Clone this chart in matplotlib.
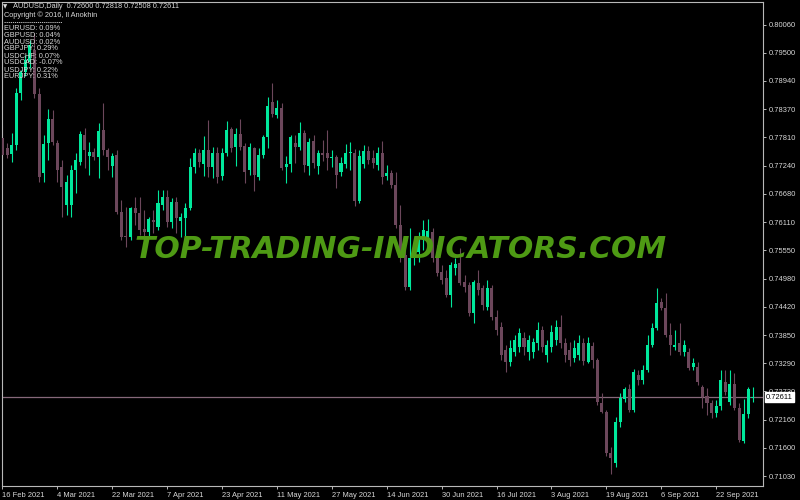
import numpy as np
import matplotlib
matplotlib.use("Agg")
import matplotlib.pyplot as plt
from matplotlib.lines import Line2D
import matplotlib.transforms as mtransforms

# AUDUSD daily bars
opens = [
    0.7780, 0.7760, 0.7748, 0.7766, 0.7870, 0.7912, 0.7932, 0.7956, 0.7868, 0.7710,
    0.7770, 0.7818, 0.7770, 0.7722, 0.7646, 0.7646, 0.7716, 0.7732, 0.7786, 0.7744,
    0.7752, 0.7742, 0.7796, 0.7756, 0.7724, 0.7746, 0.7632, 0.7584, 0.7582, 0.7640,
    0.7630, 0.7598, 0.7592, 0.7616, 0.7602, 0.7646, 0.7662, 0.7612, 0.7652, 0.7614,
    0.7620, 0.7640, 0.7722, 0.7750, 0.7728, 0.7756, 0.7722, 0.7750, 0.7704, 0.7750,
    0.7798, 0.7762, 0.7788, 0.7764, 0.7716, 0.7760, 0.7702, 0.7746, 0.7782, 0.7852,
    0.7826, 0.7840, 0.7722, 0.7728, 0.7770, 0.7762, 0.7790, 0.7724, 0.7774, 0.7724,
    0.7750, 0.7750, 0.7740, 0.7742, 0.7712, 0.7728, 0.7750, 0.7750, 0.7654, 0.7728,
    0.7754, 0.7740, 0.7726, 0.7750, 0.7704, 0.7710, 0.7686, 0.7606, 0.7546, 0.7482,
    0.7540, 0.7552, 0.7576, 0.7580, 0.7592, 0.7542, 0.7512, 0.7500, 0.7466, 0.7520,
    0.7530, 0.7492, 0.7486, 0.7430, 0.7490, 0.7480, 0.7442, 0.7480, 0.7422, 0.7402,
    0.7356, 0.7332, 0.7352, 0.7362, 0.7380, 0.7352, 0.7352, 0.7370, 0.7396, 0.7346,
    0.7362, 0.7376, 0.7402, 0.7370, 0.7356, 0.7340, 0.7346, 0.7370, 0.7332, 0.7364,
    0.7336, 0.7250, 0.7232, 0.7150, 0.7130, 0.7212, 0.7258, 0.7278, 0.7236, 0.7306,
    0.7296, 0.7316, 0.7366, 0.7400, 0.7452, 0.7440, 0.7386, 0.7362, 0.7370, 0.7352,
    0.7352, 0.7322, 0.7322, 0.7282, 0.7264, 0.7250, 0.7230, 0.7244, 0.7292, 0.7252,
    0.7288, 0.7240, 0.7174, 0.7228, 0.72600,
]
highs = [
    0.7806, 0.7770, 0.7790, 0.7880, 0.7916, 0.7946, 0.7976, 0.7990, 0.7880, 0.7786,
    0.7838, 0.7836, 0.7776, 0.7736, 0.7706, 0.7726, 0.7750, 0.7794, 0.7800, 0.7772,
    0.7760, 0.7810, 0.7850, 0.7760, 0.7750, 0.7756, 0.7656, 0.7642, 0.7642, 0.7662,
    0.7662, 0.7636, 0.7622, 0.7636, 0.7676, 0.7676, 0.7676, 0.7660, 0.7662, 0.7630,
    0.7650, 0.7740, 0.7760, 0.7758, 0.7784, 0.7816, 0.7762, 0.7762, 0.7760, 0.7814,
    0.7802, 0.7800, 0.7818, 0.7770, 0.7770, 0.7762, 0.7760, 0.7786, 0.7862, 0.7890,
    0.7856, 0.7850, 0.7744, 0.7786, 0.7786, 0.7812, 0.7796, 0.7780, 0.7786, 0.7756,
    0.7776, 0.7796, 0.7756, 0.7746, 0.7742, 0.7768, 0.7772, 0.7758, 0.7756, 0.7766,
    0.7764, 0.7756, 0.7762, 0.7774, 0.7726, 0.7716, 0.7712, 0.7646, 0.7556, 0.7600,
    0.7576, 0.7592, 0.7616, 0.7618, 0.7600, 0.7566, 0.7526, 0.7516, 0.7532, 0.7540,
    0.7560, 0.7506, 0.7492, 0.7496, 0.7516, 0.7486, 0.7496, 0.7486, 0.7436, 0.7412,
    0.7366, 0.7376, 0.7386, 0.7400, 0.7392, 0.7386, 0.7380, 0.7412, 0.7404, 0.7376,
    0.7406, 0.7416, 0.7426, 0.7380, 0.7372, 0.7376, 0.7386, 0.7380, 0.7382, 0.7372,
    0.7340, 0.7270, 0.7236, 0.7162, 0.7222, 0.7270, 0.7282, 0.7288, 0.7318, 0.7316,
    0.7326, 0.7386, 0.7410, 0.7480, 0.7460, 0.7470, 0.7410, 0.7396, 0.7410, 0.7376,
    0.7360, 0.7340, 0.7332, 0.7286, 0.7280, 0.7256, 0.7256, 0.7316, 0.7316, 0.7316,
    0.7310, 0.7250, 0.7258, 0.7282, 0.72818,
]
lows = [
    0.7740, 0.7740, 0.7732, 0.7756, 0.7856, 0.7904, 0.7920, 0.7860, 0.7692, 0.7692,
    0.7736, 0.7766, 0.7692, 0.7622, 0.7626, 0.7622, 0.7670, 0.7726, 0.7720, 0.7706,
    0.7736, 0.7700, 0.7746, 0.7716, 0.7702, 0.7628, 0.7576, 0.7562, 0.7576, 0.7606,
    0.7586, 0.7584, 0.7582, 0.7590, 0.7596, 0.7636, 0.7602, 0.7600, 0.7590, 0.7582,
    0.7582, 0.7636, 0.7710, 0.7722, 0.7704, 0.7702, 0.7700, 0.7690, 0.7696, 0.7744,
    0.7752, 0.7724, 0.7756, 0.7690, 0.7706, 0.7674, 0.7696, 0.7740, 0.7760, 0.7822,
    0.7820, 0.7716, 0.7690, 0.7712, 0.7730, 0.7756, 0.7712, 0.7706, 0.7720, 0.7708,
    0.7734, 0.7716, 0.7722, 0.7680, 0.7704, 0.7720, 0.7716, 0.7644, 0.7650, 0.7720,
    0.7728, 0.7720, 0.7716, 0.7688, 0.7696, 0.7680, 0.7600, 0.7532, 0.7476, 0.7476,
    0.7526, 0.7532, 0.7556, 0.7572, 0.7532, 0.7504, 0.7488, 0.7462, 0.7442, 0.7506,
    0.7486, 0.7472, 0.7424, 0.7410, 0.7466, 0.7436, 0.7436, 0.7416, 0.7386, 0.7336,
    0.7312, 0.7324, 0.7344, 0.7352, 0.7346, 0.7336, 0.7340, 0.7356, 0.7352, 0.7332,
    0.7352, 0.7366, 0.7360, 0.7332, 0.7324, 0.7332, 0.7336, 0.7326, 0.7330, 0.7320,
    0.7246, 0.7230, 0.7144, 0.7108, 0.7122, 0.7202, 0.7252, 0.7232, 0.7232, 0.7286,
    0.7288, 0.7312, 0.7362, 0.7396, 0.7436, 0.7382, 0.7346, 0.7356, 0.7346, 0.7344,
    0.7316, 0.7316, 0.7286, 0.7240, 0.7226, 0.7220, 0.7222, 0.7236, 0.7266, 0.7246,
    0.7236, 0.7172, 0.7170, 0.7220, 0.72508,
]
closes = [
    0.7746, 0.7746, 0.7766, 0.7870, 0.7912, 0.7936, 0.7966, 0.7868, 0.7702, 0.7768,
    0.7818, 0.7772, 0.7716, 0.7682, 0.7692, 0.7716, 0.7736, 0.7788, 0.7756, 0.7752,
    0.7742, 0.7794, 0.7756, 0.7742, 0.7744, 0.7632, 0.7582, 0.7582, 0.7640, 0.7630,
    0.7596, 0.7592, 0.7618, 0.7612, 0.7650, 0.7662, 0.7612, 0.7652, 0.7620, 0.7622,
    0.7640, 0.7722, 0.7750, 0.7732, 0.7756, 0.7722, 0.7750, 0.7702, 0.7750, 0.7796,
    0.7760, 0.7788, 0.7762, 0.7712, 0.7762, 0.7706, 0.7746, 0.7782, 0.7844, 0.7828,
    0.7840, 0.7720, 0.7728, 0.7782, 0.7762, 0.7790, 0.7726, 0.7772, 0.7730, 0.7750,
    0.7746, 0.7740, 0.7742, 0.7706, 0.7730, 0.7750, 0.7752, 0.7654, 0.7744, 0.7754,
    0.7736, 0.7730, 0.7750, 0.7702, 0.7710, 0.7686, 0.7606, 0.7546, 0.7482, 0.7540,
    0.7556, 0.7580, 0.7596, 0.7594, 0.7540, 0.7510, 0.7496, 0.7466, 0.7526, 0.7528,
    0.7490, 0.7482, 0.7430, 0.7492, 0.7476, 0.7446, 0.7480, 0.7422, 0.7396, 0.7346,
    0.7332, 0.7360, 0.7376, 0.7390, 0.7362, 0.7376, 0.7372, 0.7396, 0.7362, 0.7366,
    0.7392, 0.7402, 0.7370, 0.7346, 0.7336, 0.7360, 0.7370, 0.7334, 0.7370, 0.7336,
    0.7252, 0.7232, 0.7150, 0.7140, 0.7212, 0.7260, 0.7278, 0.7236, 0.7312, 0.7296,
    0.7316, 0.7366, 0.7400, 0.7450, 0.7440, 0.7386, 0.7366, 0.7366, 0.7352, 0.7366,
    0.7320, 0.7330, 0.7292, 0.7262, 0.7250, 0.7230, 0.7244, 0.7296, 0.7272, 0.7288,
    0.7240, 0.7176, 0.7228, 0.7278, 0.72611,
]

date_labels = ["16 Feb 2021", "4 Mar 2021", "22 Mar 2021", "7 Apr 2021", "23 Apr 2021",
               "11 May 2021", "27 May 2021", "14 Jun 2021", "30 Jun 2021", "16 Jul 2021",
               "3 Aug 2021", "19 Aug 2021", "6 Sep 2021", "22 Sep 2021"]
bars_per_label = 12
price_ticks = [0.80060, 0.79500, 0.78940, 0.78370, 0.77810, 0.77240, 0.76680, 0.76110,
               0.75550, 0.74980, 0.74420, 0.73850, 0.73290, 0.72730, 0.72160, 0.71600,
               0.71030]
bid = 0.72611

header = "AUDUSD,Daily  0.72600 0.72818 0.72508 0.72611"
copyright_text = "Copyright \u00a9 2016, Il Anokhin"
pairs = ["EURUSD", "GBPUSD", "AUDUSD", "GBPJPY", "USDCHF", "USDCAD", "USDJPY", "EURJPY"]
changes = ["0.09%", "0.04%", "0.02%", "0.29%", "0.07%", "-0.07%", "0.22%", "0.31%"]

BG = "black"
BULL = "#00E89C"
BEAR = "#6C475B"
FG = "#D8D8D8"
AXIS = "#B8B8B8"
FONT = ["Liberation Sans", "DejaVu Sans"]

W, H = 800, 500
fig = plt.figure(figsize=(8, 5), dpi=100, facecolor=BG)
ax = fig.add_axes([2 / W, 14 / H, 761 / W, 484 / H], facecolor=BG)

o = np.array(opens)
c = np.array(closes)
hi = np.array(highs)
lo = np.array(lows)
x = np.arange(len(o))
up = c >= o
cols = np.where(up, BULL, BEAR)

# wicks then bodies
ax.vlines(x, lo, hi, colors=cols, linewidth=0.8, zorder=2)
body_h = np.maximum(np.abs(c - o), 0.00012)
ax.bar(x, body_h, bottom=np.minimum(o, c), width=0.66, color=cols,
       linewidth=0, zorder=3)

ax.axhline(bid, color="#86687A", linewidth=0.9, zorder=1)

ax.set_xlim(-0.1, -0.1 + 761 / 4.575)
ax.set_ylim(0.7083, 0.8052)

for s in ax.spines.values():
    s.set_color(AXIS)
    s.set_linewidth(0.8)

ax.yaxis.tick_right()
ax.set_yticks(price_ticks)
ax.set_yticklabels(["%.5f" % v for v in price_ticks])
ax.set_xticks(np.arange(len(date_labels)) * bars_per_label)
ax.set_xticklabels(date_labels, ha="left")
ax.tick_params(axis="both", colors=AXIS, labelcolor=FG, length=2.5, width=0.7,
               labelsize=5.4, pad=1.5)
for lab in ax.get_xticklabels() + ax.get_yticklabels():
    lab.set_family(FONT)

# price label for the bid line (it sits over the 0.72730 label, as in MT4)
trans = mtransforms.blended_transform_factory(ax.transAxes, ax.transData)
ax.text(1.004, bid, "0.72611", transform=trans, ha="left", va="center",
        fontsize=5.4, color="black", family=FONT, zorder=10, clip_on=False,
        bbox=dict(boxstyle="square,pad=0.2", fc="white", ec="white"))

# watermark
fig.text(401 / W, 1 - 249 / H, "TOP-TRADING-INDICATORS.COM", ha="center", va="center",
         fontsize=21.5, fontweight="bold", style="oblique", color="#4E9A14",
         family="DejaVu Sans", zorder=20)

# top-left info block
fig.text(3 / W, 1 - 7 / H, "\u25bc", fontsize=4, color=FG, va="center", family="DejaVu Sans")
fig.text(13 / W, 1 - 7 / H, header, fontsize=5.3, color=FG, va="center", family=FONT)
fig.text(4 / W, 1 - 15 / H, copyright_text, fontsize=5.3, color=FG, va="center", family=FONT)
fig.add_artist(Line2D([4 / W, 62 / W], [1 - 22 / H, 1 - 22 / H], color=FG,
                      linewidth=0.6, linestyle=(0, (1.5, 1))))
for k, (p, ch) in enumerate(zip(pairs, changes)):
    fig.text(4 / W, 1 - (28 + 7 * k) / H, "%s: %s" % (p, ch), fontsize=5.3,
             color=FG, va="center", family=FONT, zorder=20)

fig.savefig("out.png", dpi=100, facecolor=BG)
